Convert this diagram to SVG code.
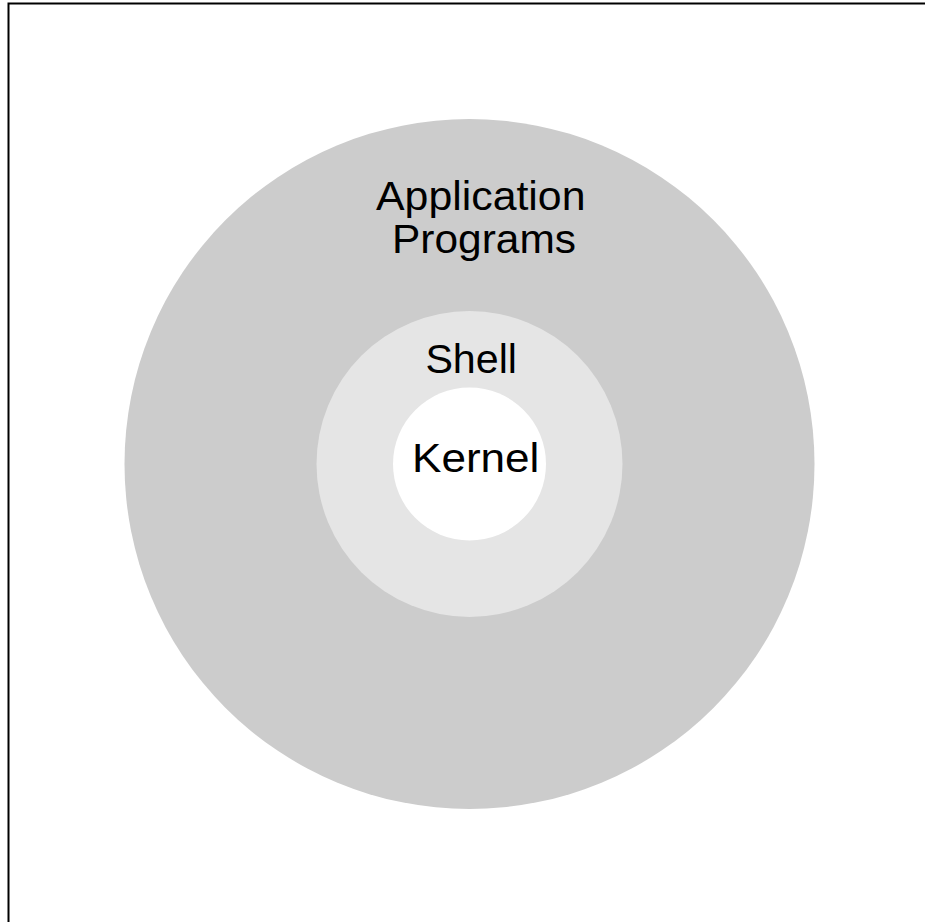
<svg xmlns="http://www.w3.org/2000/svg" width="925" height="922" viewBox="0 0 925 922">
<style>
text{font-family:"Liberation Sans",Arial,sans-serif;font-size:41px;fill:#000;text-anchor:start}
</style>
<rect x="0" y="0" width="925" height="922" fill="#fff"/>
<rect x="8.5" y="3.5" width="1000" height="1000" fill="none" stroke="#000" stroke-width="2"/>
<g id="applications">
<circle cx="469.5" cy="464" r="345" fill="#cccccc"/>
<text x="376" y="210" textLength="209.5" lengthAdjust="spacingAndGlyphs">Application</text>
<text x="392" y="253" textLength="184" lengthAdjust="spacingAndGlyphs">Programs</text>
</g>
<g id="shell">
<circle cx="469.5" cy="464" r="153" fill="#e5e5e5"/>
<text x="425.4" y="372.5" textLength="91.6" lengthAdjust="spacingAndGlyphs">Shell</text>
</g>
<g id="kernel">
<circle cx="469.5" cy="464" r="76.5" fill="#ffffff"/>
<text x="412" y="472" textLength="127.4" lengthAdjust="spacingAndGlyphs">Kernel</text>
</g>
<g id="connectors"/>
</svg>
